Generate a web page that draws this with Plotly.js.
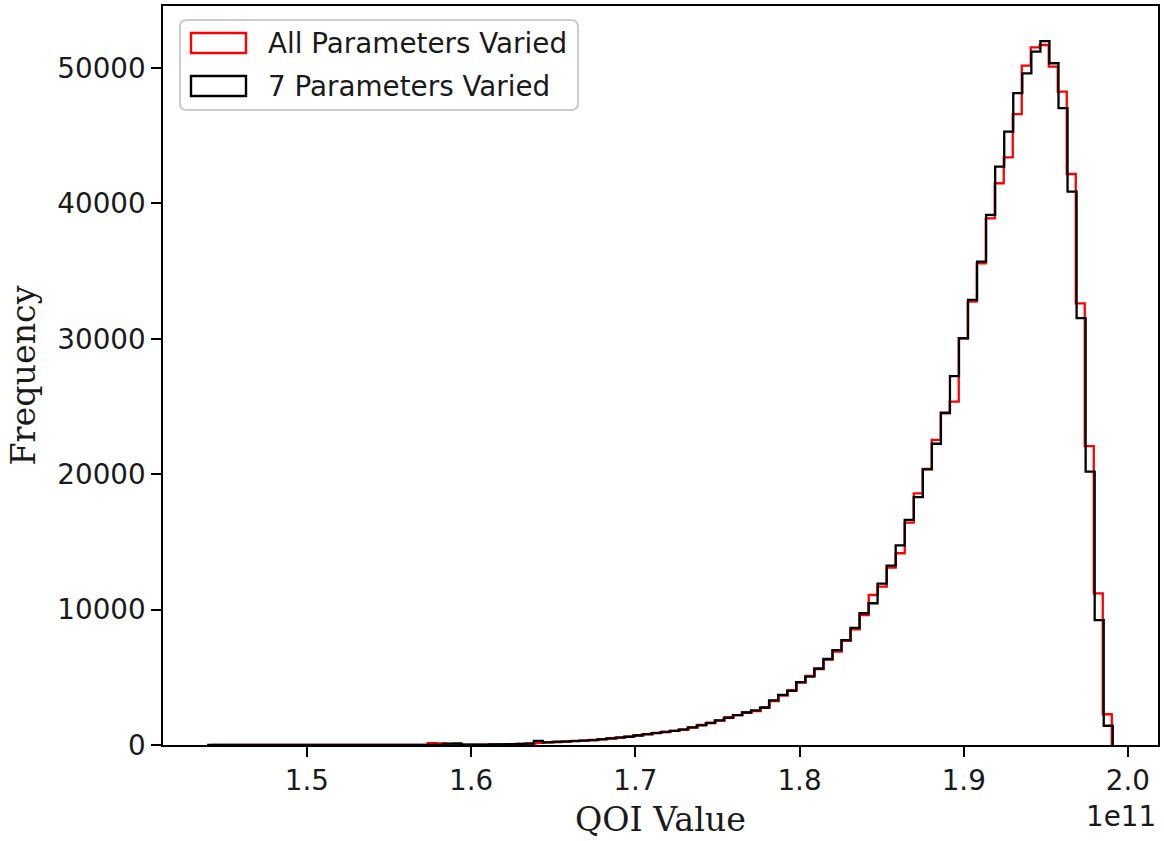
<!DOCTYPE html>
<html>
<head>
<meta charset="utf-8">
<script src="https://cdn.plot.ly/plotly-3.0.1.min.js"></script>
<style>html,body{margin:0;padding:0;background:#fff;}#chart{width:1164px;height:841px;}</style>
</head>
<body>
<div id="chart"></div>
<script>
// Bin ranges (QOI value, units of 1e11), 100 bins each
const redRange = [1.44200, 1.99014];
const blackRange = [1.43993, 1.99075];

// Counts per bin: "All Parameters Varied"
const redCounts = [
  0, 1, 0, 0, 0, 0, 1, 0, 0, 0,
  0, 1, 0, 0, 2, 0, 1, 1, 2, 3,
  3, 5, 4, 7, 130, 120, 12, 18, 22, 30,
  35, 45, 55, 70, 85, 110, 150, 200, 240, 270,
  300, 330, 370, 430, 480, 560, 620, 720, 790, 900,
  980, 1050, 1150, 1280, 1480, 1650, 1800, 2050, 2200, 2400,
  2500, 2800, 3250, 3650, 4050, 4600, 5100, 5600, 6300, 6900,
  7700, 8550, 9600, 11080, 11700, 13100, 14160, 16420, 18590, 20400,
  22530, 24500, 25360, 30040, 32750, 35570, 38900, 41490, 43400, 46600,
  50170, 51530, 51700, 50100, 48250, 42170, 32620, 22080, 11200, 2270
];

// Counts per bin: "7 Parameters Varied"
const blackCounts = [
  1, 0, 0, 0, 0, 0, 0, 0, 1, 0,
  0, 0, 1, 0, 0, 1, 0, 2, 1, 3,
  2, 4, 3, 6, 8, 12, 95, 110, 20, 25,
  30, 40, 50, 60, 80, 100, 300, 200, 220, 250,
  280, 320, 360, 420, 490, 540, 610, 700, 800, 880,
  950, 1050, 1130, 1300, 1450, 1620, 1820, 2000, 2200, 2400,
  2550, 2750, 3300, 3700, 4000, 4650, 5050, 5650, 6350, 7000,
  7750, 8650, 9730, 10470, 11920, 13250, 14750, 16620, 18300, 20360,
  22250, 24540, 27250, 30040, 32870, 35700, 39150, 42710, 45300, 48140,
  49610, 51210, 51980, 50350, 47030, 40870, 31520, 20190, 9230, 1420
];

const seriesNames = ["All Parameters Varied", "7 Parameters Varied"];
const xTickVals = [1.5, 1.6, 1.7, 1.8, 1.9, 2.0];
const xTickText = ["1.5", "1.6", "1.7", "1.8", "1.9", "2.0"];
const yTickVals = [0, 10000, 20000, 30000, 40000, 50000];
const yTickText = ["0", "10000", "20000", "30000", "40000", "50000"];
const offsetLabel = "1e11";

// Build a step outline (like matplotlib histtype='step') from bin range + counts
function stepOutline(range, counts) {
  const n = counts.length;
  const w = (range[1] - range[0]) / n;
  const x = [range[0]], y = [0];
  for (let i = 0; i < n; i++) { x.push(range[0] + i * w); y.push(counts[i]); }
  x.push(range[1]); y.push(0);
  return {x, y};
}

const r = stepOutline(redRange, redCounts);
const b = stepOutline(blackRange, blackCounts);
const yMax = Math.max(...redCounts, ...blackCounts) * 1.05;
const xMin = Math.min(redRange[0], blackRange[0]), xMax = Math.max(redRange[1], blackRange[1]);
const xPad = (xMax - xMin) * 0.05;

const traces = [
  {x: r.x, y: r.y, type: 'scatter', mode: 'lines', name: seriesNames[0],
   line: {shape: 'hv', color: '#ff0000', width: 2.3}, showlegend: false, hoverinfo: 'skip'},
  {x: b.x, y: b.y, type: 'scatter', mode: 'lines', name: seriesNames[1],
   line: {shape: 'hv', color: '#000000', width: 2.3}, showlegend: false, hoverinfo: 'skip'}
];

// Plot area in pixels: left 163, right 1158, top 6, bottom 745
const W = 1164, H = 841, L = 163, R = 6, T = 6, B = 96;
const pw = W - L - R, ph = H - T - B;
const px = v => (v - L) / pw;
const py = v => (H - B - v) / ph;

function roundRect(x0, y0, x1, y1, rad) {
  const rx = rad / pw, ry = rad / ph;
  const X0 = px(x0), X1 = px(x1), Y0 = py(y0), Y1 = py(y1);
  return `M${X0 + rx},${Y0} L${X1 - rx},${Y0} Q${X1},${Y0} ${X1},${Y0 - ry} L${X1},${Y1 + ry} Q${X1},${Y1} ${X1 - rx},${Y1} L${X0 + rx},${Y1} Q${X0},${Y1} ${X0},${Y1 + ry} L${X0},${Y0 - ry} Q${X0},${Y0} ${X0 + rx},${Y0} Z`;
}

const fontSans = 'DejaVu Sans, sans-serif';
const fontSerif = 'DejaVu Serif, serif';
const fs = 27.8;
const txt = '#1a1a1a';

const layout = {
  width: W, height: H,
  margin: {l: L, r: R, t: T, b: B, pad: 0},
  paper_bgcolor: '#ffffff', plot_bgcolor: '#ffffff',
  showlegend: false,
  xaxis: {
    range: [xMin - xPad, xMax + xPad],
    tickvals: xTickVals, ticktext: xTickText,
    ticks: 'outside', ticklen: 9.7, tickwidth: 2, tickcolor: '#000',
    showline: true, linecolor: '#000', linewidth: 2, mirror: true,
    showgrid: false, zeroline: false,
    tickfont: {family: fontSans, size: fs, color: txt},
    title: {text: 'QOI Value', font: {family: fontSerif, size: 33.3, color: txt}, standoff: 12}
  },
  yaxis: {
    range: [0, yMax],
    tickvals: yTickVals, ticktext: yTickText,
    ticks: 'outside', ticklen: 9.7, tickwidth: 2, tickcolor: '#000',
    showline: true, linecolor: '#000', linewidth: 2, mirror: true,
    showgrid: false, zeroline: false,
    tickfont: {family: fontSans, size: fs, color: txt},
    title: {text: 'Frequency', font: {family: fontSerif, size: 33.3, color: txt}, standoff: 12}
  },
  shapes: [
    {type: 'path', xref: 'paper', yref: 'paper', path: roundRect(180, 20, 578, 110, 7),
     line: {color: '#cccccc', width: 2}, fillcolor: 'rgba(255,255,255,0.8)', layer: 'above'},
    {type: 'rect', xref: 'paper', yref: 'paper', x0: px(191), x1: px(246), y0: py(33), y1: py(53),
     line: {color: '#ff0000', width: 2.4}, fillcolor: 'rgba(0,0,0,0)', layer: 'above'},
    {type: 'rect', xref: 'paper', yref: 'paper', x0: px(191), x1: px(246), y0: py(76), y1: py(96),
     line: {color: '#000000', width: 2.4}, fillcolor: 'rgba(0,0,0,0)', layer: 'above'}
  ],
  annotations: [
    {xref: 'paper', yref: 'paper', x: px(266), y: py(43), xanchor: 'left', yanchor: 'middle',
     text: seriesNames[0], showarrow: false, font: {family: fontSans, size: fs, color: txt}},
    {xref: 'paper', yref: 'paper', x: px(266), y: py(86), xanchor: 'left', yanchor: 'middle',
     text: seriesNames[1], showarrow: false, font: {family: fontSans, size: fs, color: txt}},
    {xref: 'paper', yref: 'paper', x: 1, y: py(816), xanchor: 'right', yanchor: 'middle',
     text: offsetLabel, showarrow: false, font: {family: fontSans, size: fs, color: txt}}
  ]
};

Plotly.newPlot('chart', traces, layout, {staticPlot: true, displayModeBar: false});
</script>
</body>
</html>
